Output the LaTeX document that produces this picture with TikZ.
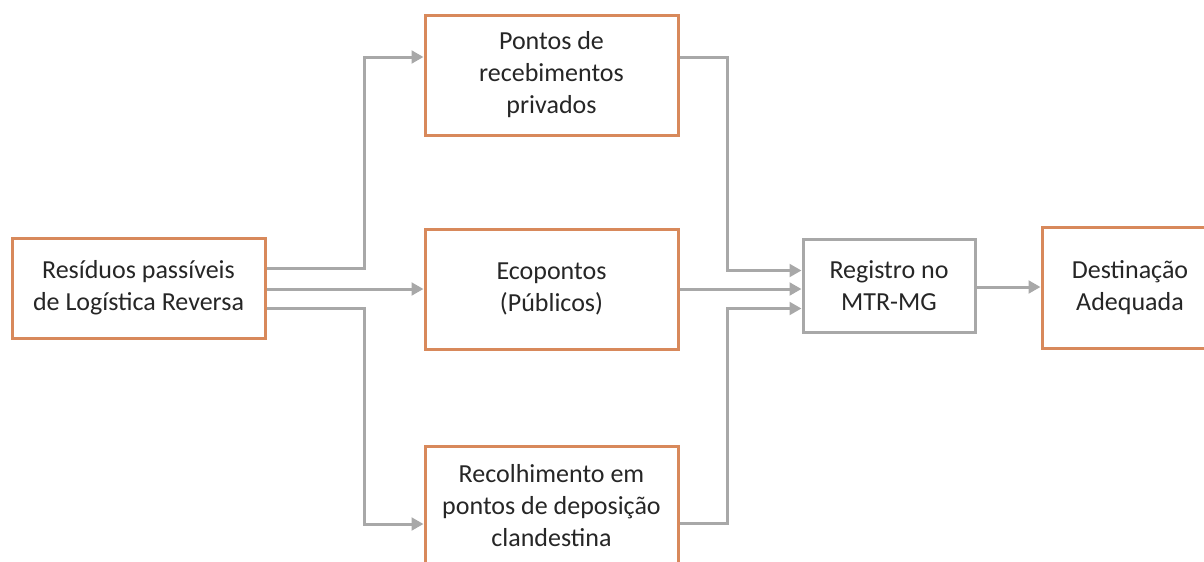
\documentclass[tikz,border=0pt]{standalone}
\usepackage{fontspec}
\setmainfont{Carlito}
\usetikzlibrary{arrows.meta,calc}
\definecolor{boxorange}{HTML}{D8895B}
\definecolor{linegray}{HTML}{A8A8A8}
\begin{document}
\begin{tikzpicture}[x=0.75pt,y=-0.75pt,
  every node/.style={font=\fontsize{19.5}{24}\selectfont, text=black!85, align=center, inner sep=0pt},
  obox/.style={draw=boxorange, line width=2.25pt, fill=white},
  gbox/.style={draw=linegray, line width=2.25pt, fill=white},
  arr/.style={draw=linegray, line width=2.25pt, -{Triangle[length=9pt,width=9.5pt]}},
  conn/.style={draw=linegray, line width=2.25pt}]
\useasboundingbox (0,0) rectangle (1204,561);
\node[obox, minimum width=189.75pt, minimum height=75pt] (L) at (138.5,288) {Resíduos passíveis\\de Logística Reversa};
\node[obox, minimum width=189.75pt, minimum height=90pt] (T) at (551.5,75) {Pontos de\\recebimentos\\privados};
\node[obox, minimum width=189.75pt, minimum height=90pt] (M) at (551.5,289) {Ecopontos\\(Públicos)};
\node[obox, minimum width=189.75pt, minimum height=90pt] (B) at (551.5,506) {Recolhimento em\\pontos de deposição\\clandestina};
\node[gbox, minimum width=129pt, minimum height=69.75pt] (R) at (889,285.5) {Registro no\\MTR-MG};
\node[obox, minimum width=132pt, minimum height=90.75pt] (D) at (1130,287.5) {Destinação\\Adequada};
% trunks
\coordinate (lx) at (364,0);
\coordinate (rx) at (727,0);
\coordinate (tin) at ($(T.west)+(0,-18)$);
\coordinate (bin) at ($(B.west)+(0,18)$);
\coordinate (tout) at ($(T.east)+(0,-18)$);
\coordinate (bout) at ($(B.east)+(0,17)$);
\coordinate (rin1) at ($(R.west)+(0,-15)$);
\coordinate (rin3) at ($(R.west)+(0,23)$);
\coordinate (rout) at ($(R.east)+(0,1.5)$);
\draw[arr] ($(L.east)+(0,-20)$) -| (lx |- tin) -- (tin);
\draw[arr] (L.east |- M.west) -- (M.west);
\draw[arr] ($(L.east)+(0,20)$) -| (lx |- bin) -- (bin);
\draw[arr] (tout) -| (rx |- rin1) -- (rin1);
\draw[arr] (M.east) -- (R.west |- M.east);
\draw[arr] (bout) -| (rx |- rin3) -- (rin3);
\draw[arr] (rout) -- (D.west |- rout);
\end{tikzpicture}
\end{document}
